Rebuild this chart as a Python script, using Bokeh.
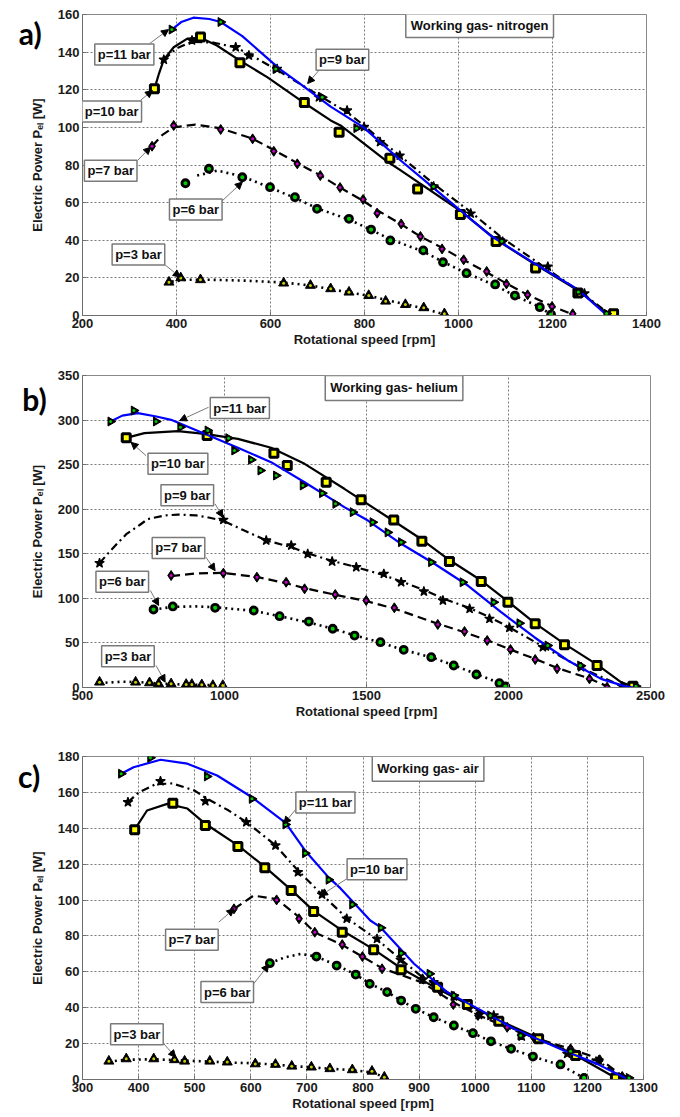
from math import pi

from bokeh.embed import file_html
from bokeh.layouts import column
from bokeh.models import Arrow, FixedTicker, Label, NormalHead, Range1d
from bokeh.plotting import figure
from bokeh.resources import INLINE

# ---------------------------------------------------------------- data
# a) working gas: nitrogen
a_rpm_ticks = [200, 400, 600, 800, 1000, 1200, 1400]
a_w_ticks = [0, 20, 40, 60, 80, 100, 120, 140, 160]

a_p11_rpm = [390, 494, 611, 710, 783, 947, 1092, 1255, 1315]
a_p11_w = [152, 156, 131, 116, 99.6, 68.6, 39.5, 12.5, 1]
a_p11_fit_rpm = [390, 410, 436, 470, 494, 540, 572, 620, 664, 728, 798, 877, 941, 1068, 1153, 1253, 1309, 1318]
a_p11_fit_w = [152, 156, 158.3, 157.6, 156, 148.5, 141.5, 131, 123, 111, 100, 82.4, 69, 42.5, 29, 14, 1.6, 0]

a_p10_rpm = [353, 451, 535, 672, 746, 854, 913, 1004, 1080, 1164, 1254, 1330]
a_p10_w = [120.5, 148, 134.3, 113.2, 97.4, 83.6, 67.3, 53.7, 39.3, 25.3, 11.9, 0.9]
a_p10_fit_rpm = [353, 362, 373, 394, 423, 451, 486, 535, 593, 664, 728, 749, 845, 877, 1003, 1082, 1167, 1260, 1316, 1322]
a_p10_fit_w = [120.5, 128, 136, 142.6, 147.2, 147.6, 143.5, 135.5, 126.7, 114.3, 103.7, 101, 82.4, 77.1, 55.8, 39.9, 26.6, 12.4, 0.9, 0]

a_p9_rpm = [373, 433, 526, 554, 614, 703, 763, 799, 833, 875, 947, 1026, 1094, 1190, 1268, 1322]
a_p9_w = [136, 146.2, 142.6, 138.2, 131.1, 116, 109, 100.2, 92.2, 85, 68.6, 54.2, 39.3, 26, 11.7, 0.9]
a_p9_fit_rpm = [373, 400, 433, 480, 526, 554, 614, 703, 763, 799, 833, 875, 947, 1026, 1094, 1190, 1268, 1322]
a_p9_fit_w = [136, 142, 145.5, 145, 142.5, 139, 130.5, 117, 108, 101, 93.5, 85, 70, 55, 41, 24.5, 11, 0.5]

a_p7_rpm = [348, 394, 494, 562, 607, 657, 706, 748, 797, 827, 878, 919, 965, 1011, 1060, 1102, 1147, 1199, 1243]
a_p7_w = [90, 101, 98.9, 93.9, 87.3, 80.6, 74.4, 68, 61.7, 54.4, 48.7, 42, 35.4, 29.6, 23.4, 16.8, 11, 4.8, 0.9]
a_p7_fit_rpm = [348, 370, 394, 440, 494, 562, 607, 657, 706, 748, 797, 827, 878, 919, 965, 1011, 1060, 1102, 1147, 1199, 1243]
a_p7_fit_w = [90, 96, 100, 101.5, 99.5, 94, 88, 81, 74.5, 68, 61, 56, 48.5, 42, 36, 29.5, 23, 17, 11, 5, 0.5]

a_p6_rpm = [419, 469, 540, 599, 652, 699, 767, 814, 855, 925, 967, 1017, 1078, 1120, 1173, 1197]
a_p6_w = [70.3, 78, 73.5, 68.2, 62.9, 56.7, 51.4, 45.7, 39.9, 34.6, 28.3, 22.5, 16.5, 10.6, 4.4, 0.5]
a_p6_fit_rpm = [444, 487, 540, 599, 652, 699, 767, 814, 855, 925, 967, 1017, 1078, 1120, 1173, 1197]
a_p6_fit_w = [74.4, 77, 74, 68, 62.5, 57, 51, 45.5, 40.5, 34, 28.5, 22.5, 16, 10.5, 4.5, 0.5]

a_p3_rpm = [384, 409, 451, 628, 685, 728, 767, 809, 845, 887, 926, 970]
a_p3_w = [17.7, 20, 19, 17.2, 16, 14.2, 12.4, 10.6, 7.6, 5.8, 4.1, 0.9]
a_p3_fit_rpm = [390, 420, 470, 550, 628, 685, 728, 767, 809, 845, 887, 926, 970]
a_p3_fit_w = [18, 19, 19, 18.5, 17.5, 16, 14, 12.3, 10.5, 8.3, 6, 3.8, 0.5]

# b) working gas: helium
b_rpm_ticks = [500, 1000, 1500, 2000, 2500]
b_w_ticks = [0, 50, 100, 150, 200, 250, 300, 350]

b_p11_rpm = [599, 681, 759, 845, 941, 1014, 1035, 1094, 1127, 1182, 1276, 1344, 1391, 1452, 1522,
             1575, 1622, 1728, 1839, 1948, 2039, 2138, 2253, 2449]
b_p11_w = [298.4, 310.7, 298.4, 292, 288.3, 279.7, 265.9, 255.4, 243.4, 237.8, 226.6, 218, 206, 196.7, 185.4,
           174, 163, 140.6, 118, 95.7, 72.1, 47.1, 24.7, 1.5]
b_p11_fit_rpm = [599, 640, 695, 760, 812, 930, 1047, 1164, 1282, 1422, 1505, 1622, 1739, 1857, 1974, 2091, 2209, 2326, 2408, 2440]
b_p11_fit_w = [298.4, 305, 307.7, 304, 300.3, 284.6, 268.9, 252.8, 230.3, 202.3, 187.3, 161.2, 138.8, 114.4, 84.5, 56.4, 30.3, 9.7, 1.5, 0]

b_p10_rpm = [654, 939, 1174, 1221, 1358, 1481, 1596, 1695, 1792, 1904, 1998, 2094, 2197, 2312, 2438]
b_p10_w = [280.1, 282.7, 262.8, 249, 230.3, 210.6, 188, 164.1, 141.3, 118.9, 95.7, 71.4, 47.9, 24.7, 1.5]
b_p10_fit_rpm = [654, 718, 836, 930, 1047, 1164, 1282, 1422, 1593, 1695, 1792, 1904, 1998, 2094, 2197, 2312, 2396, 2444]
b_p10_fit_w = [280, 285.3, 287.6, 284.6, 278.9, 268.9, 250.9, 222.9, 187.3, 166, 143, 120, 96.5, 72, 49, 25.7, 6, 0.3]

b_p9_rpm = [560, 996, 1147, 1235, 1293, 1379, 1464, 1561, 1622, 1702, 1769, 1863, 1933, 2003, 2121, 2256, 2399]
b_p9_w = [139.5, 188.1, 164.9, 159.3, 149.9, 141.3, 135, 127.5, 118.1, 107.7, 97.6, 88.3, 77.1, 67, 45.2, 22.8, 1.5]
b_p9_fit_rpm = [560, 600, 654, 700, 730, 790, 836, 900, 940, 996, 1070, 1147, 1235, 1293, 1379, 1464, 1561,
                1622, 1702, 1769, 1863, 1933, 2003, 2121, 2256, 2399]
b_p9_fit_w = [139.5, 154, 172, 182, 189, 193, 194, 193, 191, 187, 176, 165, 157.5, 150.5, 142, 135, 126,
              119, 109.5, 100, 89, 79, 67.5, 46, 22, 1.5]

b_p7_rpm = [812, 996, 1114, 1217, 1282, 1390, 1499, 1598, 1751, 1845, 1925, 2007, 2094, 2171, 2285, 2347]
b_p7_w = [125.6, 128.3, 123.8, 118.1, 110.7, 104.3, 97.6, 89.4, 70.7, 62.8, 52.7, 42.6, 31.4, 21, 9.7, 0.4]
b_p7_fit_rpm = [812, 900, 996, 1114, 1217, 1282, 1390, 1499, 1598, 1751, 1845, 1925, 2007, 2094, 2171, 2285, 2347]
b_p7_fit_w = [125, 128, 128.5, 124, 117, 111.5, 104, 97, 88.5, 71.5, 62, 53, 42.5, 32, 22, 10, 1.5]

b_p6_rpm = [750, 818, 967, 1103, 1194, 1297, 1381, 1458, 1549, 1631, 1728, 1807, 1887, 1968, 1989]
b_p6_w = [87.5, 90.9, 89.4, 86.4, 80, 74, 65.9, 58.3, 50.8, 42.3, 34, 24.7, 14.6, 4.8, 1.1]
b_p6_fit_rpm = [750, 820, 900, 967, 1103, 1194, 1297, 1381, 1458, 1549, 1631, 1728, 1807, 1887, 1968, 1995]
b_p6_fit_w = [87.5, 90.5, 91, 90, 86, 80, 73, 66, 58.5, 50.5, 42, 34, 25, 15, 5, 0.5]

b_p3_rpm = [560, 687, 736, 768, 812, 865, 885, 920, 959, 994]
b_p3_w = [6, 6, 5.2, 4.1, 4.1, 3.4, 3.4, 3, 2.2, 2.2]
b_p3_fit_rpm = [560, 640, 700, 768, 840, 920, 1000]
b_p3_fit_w = [5, 6.5, 6, 4.5, 3.5, 3, 2]

# c) working gas: air
c_rpm_ticks = [300, 400, 500, 600, 700, 800, 900, 1000, 1100, 1200, 1300]
c_w_ticks = [0, 20, 40, 60, 80, 100, 120, 140, 160, 180]

c_p11_rpm = [369, 421, 522, 602, 662, 697, 739, 781, 832, 868, 919, 962, 1027, 1081, 1170, 1274]
c_p11_w = [170.4, 179.3, 168.9, 156.4, 142.1, 126.1, 111.3, 97.5, 84.5, 70.4, 58.9, 46.8, 35.7, 24.5, 15.8, 0.9]
c_p11_fit_rpm = [369, 391, 439, 487, 540, 602, 662, 697, 739, 760, 813, 831, 891, 950, 1009, 1069, 1158, 1217, 1265, 1275]
c_p11_fit_w = [170.4, 174, 178.2, 176, 169.4, 157.3, 143, 127.5, 112.5, 106.5, 88.6, 84.9, 64.5, 48.7, 38.8, 28.3, 16.2, 8.7, 1.3, 0]

c_p10_rpm = [393, 461, 519, 577, 625, 672, 712, 763, 819, 868, 933, 986, 1042, 1113, 1179, 1250]
c_p10_w = [139.2, 154, 141.5, 129.8, 118, 105.3, 93.6, 82.1, 72.3, 61.1, 51.4, 41.8, 32.5, 22.7, 13.4, 0.9]
c_p10_fit_rpm = [393, 415, 451, 487, 519, 577, 625, 672, 712, 763, 819, 868, 933, 986, 1042, 1113, 1179, 1250]
c_p10_fit_w = [139.2, 149.9, 153.6, 151, 142.5, 130.5, 118.5, 105.7, 94, 83, 72.5, 62, 50.5, 42, 33, 23, 13.5, 1]

c_p9_rpm = [381, 439, 519, 592, 644, 684, 727, 771, 825, 867, 906, 926, 962, 1007, 1033, 1083, 1164, 1220, 1262]
c_p9_w = [154.5, 166.2, 155.1, 143.4, 130.4, 115.5, 103.1, 89.6, 78.4, 66.7, 55.6, 54.2, 46.3, 36, 35.7, 24, 14.3, 10.6, 1.3]
c_p9_fit_rpm = [381, 400, 430, 460, 500, 519, 560, 592, 644, 684, 727, 771, 825, 867, 906, 962, 1007, 1033, 1083, 1164, 1220, 1262]
c_p9_fit_w = [154.5, 160, 164.5, 165, 161, 157, 150, 143.5, 130.5, 116.5, 103, 90, 78, 67, 57, 46.5, 38, 34, 26, 16, 10, 1.3]

c_p7_rpm = [570, 646, 686, 714, 763, 799, 834, 906, 938, 961, 1005, 1057, 1104, 1170, 1222, 1262]
c_p7_w = [95.1, 100.1, 89.6, 82.1, 75.2, 68.5, 61.7, 56.1, 49.2, 41.8, 35.7, 29.1, 23.6, 17.1, 11, 1.7]
c_p7_fit_rpm = [570, 605, 646, 686, 714, 763, 799, 834, 906, 961, 1005, 1057, 1104, 1170, 1222, 1262, 1270]
c_p7_fit_w = [95, 102.5, 100.5, 90.5, 82, 75, 68.5, 62, 54, 43, 36, 29, 23.5, 17, 11.5, 2, 0.5]

c_p6_rpm = [634, 717, 753, 787, 812, 843, 868, 894, 926, 962, 996, 1028, 1064, 1103, 1152, 1194]
c_p6_w = [64.8, 68.5, 63.5, 58.5, 53.3, 48.7, 44, 39.4, 34.7, 30.1, 25.8, 21.3, 17.1, 12.8, 8.4, 0.9]
c_p6_fit_rpm = [634, 660, 689, 717, 754, 787, 812, 843, 868, 894, 926, 962, 996, 1028, 1064, 1103, 1152, 1194]
c_p6_fit_w = [64.8, 68, 70, 68.5, 63.5, 58.5, 53.5, 48.7, 44, 39.4, 34.7, 30, 25.8, 21.3, 17, 12.8, 8, 0.9]

c_p3_rpm = [347, 378, 427, 464, 482, 527, 558, 608, 644, 673, 708, 741, 781, 816, 838]
c_p3_w = [10.2, 11.5, 11.5, 11, 10.2, 10.2, 9.7, 8.7, 8.4, 7.4, 6.9, 6, 5.4, 4.6, 1.3]
c_p3_fit_rpm = [347, 378, 427, 464, 527, 558, 608, 644, 673, 708, 741, 781, 816, 838]
c_p3_fit_w = [10, 11, 11.3, 10.8, 10, 9.5, 9, 8.3, 7.5, 6.8, 6, 5.2, 4, 1.3]

# ---------------------------------------------------------------- styles
FONT = "Liberation Sans"
STYLE = {
    "p11": dict(color="#0000ff", dash="solid", lw=2.2, marker="triangle", angle=-pi / 2,
                size=9, fill="black", lwm=1, dot="#00cc00"),
    "p10": dict(color="black", dash="solid", lw=2.2, marker="square", angle=0,
                size=8, fill="#ffff00", lwm=3, dot=None),
    "p9": dict(color="black", dash="8 4 2 4", lw=2.2, marker="star", angle=0,
               size=10, fill="black", lwm=1.2, dot=None),
    "p7": dict(color="black", dash="9 5", lw=2.2, marker="diamond", angle=0,
               size=10, fill="black", lwm=1, dot="#cc00cc"),
    "p6": dict(color="black", dash="2 4", lw=2.6, marker="circle", angle=0,
               size=7, fill="#00cc00", lwm=2.8, dot=None),
    "p3": dict(color="black", dash="2 4", lw=2.6, marker="triangle", angle=0,
               size=10, fill="black", lwm=1, dot="#cccc00"),
}


def make_panel(xr, yr, xticks, yticks, fw, fh, left, right, top, bottom):
    p = figure(output_backend="svg", toolbar_location=None,
               frame_width=fw, frame_height=fh,
               min_border_left=left, min_border_right=right,
               min_border_top=top, min_border_bottom=bottom,
               x_range=Range1d(*xr), y_range=Range1d(*yr))
    p.background_fill_color = "white"
    p.border_fill_color = "white"
    p.outline_line_color = "#8a8a8a"
    p.outline_line_width = 1
    p.xaxis.ticker = FixedTicker(ticks=xticks)
    p.yaxis.ticker = FixedTicker(ticks=yticks)
    p.xaxis.axis_label = "Rotational speed [rpm]"
    p.yaxis.axis_label = "Electric Power P\u2091\u2097 [W]"
    for ax in (p.xaxis[0], p.yaxis[0]):
        ax.axis_line_color = "#6e6e6e"
        ax.major_tick_line_color = "#6e6e6e"
        ax.major_tick_in = 4
        ax.major_tick_out = 0
        ax.minor_tick_line_color = None
        ax.major_label_text_font = FONT
        ax.major_label_text_font_style = "bold"
        ax.major_label_text_font_size = "13px"
        ax.major_label_text_color = "#1a1a1a"
        ax.axis_label_text_font = FONT
        ax.axis_label_text_font_style = "bold"
        ax.axis_label_text_font_size = "13px"
        ax.axis_label_text_color = "#1a1a1a"
        ax.major_label_standoff = 3
    p.xaxis.axis_label_standoff = 1
    p.yaxis.axis_label_standoff = 10
    p.grid.grid_line_color = "#7a7a7a"
    p.grid.grid_line_dash = "2 2"
    p.grid.grid_line_width = 1
    return p


def draw_series(p, kind, fit_x, fit_y, pts_x, pts_y):
    st = STYLE[kind]
    p.line(fit_x, fit_y, line_color=st["color"], line_width=st["lw"], line_dash=st["dash"])
    p.scatter(pts_x, pts_y, marker=st["marker"], size=st["size"], angle=st["angle"],
              fill_color=st["fill"], line_color="black", line_width=st["lwm"])
    if st["dot"]:
        p.scatter(pts_x, pts_y, marker="circle", size=3, fill_color=st["dot"], line_color=None)


def tag(p, text, bx, by, x0, y0, x1, y1):
    p.add_layout(Arrow(x_start=x0, y_start=y0, x_end=x1, y_end=y1,
                       line_color="#7a7a7a", line_width=1,
                       end=NormalHead(size=7, fill_color="black", line_color="black")))
    p.add_layout(Label(x=bx, y=by, text=text, text_align="center", text_baseline="middle",
                       text_font=FONT, text_font_style="bold", text_font_size="13px",
                       text_color="#111111", background_fill_color="white",
                       border_line_color="#7a7a7a", border_line_width=1.5, padding=3))


def gas_box(p, text, bx, by):
    p.add_layout(Label(x=bx, y=by, text=text, text_align="center", text_baseline="middle",
                       text_font=FONT, text_font_style="bold", text_font_size="13px",
                       text_color="#111111", background_fill_color="white",
                       border_line_color="#7a7a7a", border_line_width=1.5, padding=5))


def letter(p, text, x, y):
    # the panel letter lies left of the frame, so it goes into the left side panel
    p.add_layout(Label(x=x, y=y, text=text, text_align="center", text_baseline="middle",
                       text_font="Lato", text_font_style="bold", text_font_size="30px",
                       text_color="black"), "left")


# ---------------------------------------------------------------- a) nitrogen
pa = make_panel((200, 1400), (0, 160), a_rpm_ticks, a_w_ticks, 564, 301, 82, 34, 14, 35)
draw_series(pa, "p3", a_p3_fit_rpm, a_p3_fit_w, a_p3_rpm, a_p3_w)
draw_series(pa, "p6", a_p6_fit_rpm, a_p6_fit_w, a_p6_rpm, a_p6_w)
draw_series(pa, "p7", a_p7_fit_rpm, a_p7_fit_w, a_p7_rpm, a_p7_w)
draw_series(pa, "p9", a_p9_fit_rpm, a_p9_fit_w, a_p9_rpm, a_p9_w)
draw_series(pa, "p10", a_p10_fit_rpm, a_p10_fit_w, a_p10_rpm, a_p10_w)
draw_series(pa, "p11", a_p11_fit_rpm, a_p11_fit_w, a_p11_rpm, a_p11_w)
tag(pa, "p=11 bar", 289, 138.8, 343, 144.6, 383, 152)
tag(pa, "p=10 bar", 262, 108.5, 323, 114.3, 349, 119.6)
tag(pa, "p=9 bar", 753, 136, 702, 130, 679, 123.3)
tag(pa, "p=7 bar", 260, 77, 317, 82.4, 345, 89.5)
tag(pa, "p=6 bar", 441, 56.3, 494, 60.2, 540, 70.9)
tag(pa, "p=3 bar", 319, 32.4, 372, 27.6, 408, 20.4)
gas_box(pa, "Working gas- nitrogen", 1045, 154.4)
letter(pa, "a)", 89, 150)

# ---------------------------------------------------------------- b) helium
pb = make_panel((500, 2500), (0, 350), b_rpm_ticks, b_w_ticks, 568, 312, 78, 34, 25, 35)
draw_series(pb, "p3", b_p3_fit_rpm, b_p3_fit_w, b_p3_rpm, b_p3_w)
draw_series(pb, "p6", b_p6_fit_rpm, b_p6_fit_w, b_p6_rpm, b_p6_w)
draw_series(pb, "p7", b_p7_fit_rpm, b_p7_fit_w, b_p7_rpm, b_p7_w)
draw_series(pb, "p9", b_p9_fit_rpm, b_p9_fit_w, b_p9_rpm, b_p9_w)
draw_series(pb, "p10", b_p10_fit_rpm, b_p10_fit_w, b_p10_rpm, b_p10_w)
draw_series(pb, "p11", b_p11_fit_rpm, b_p11_fit_w, b_p11_rpm, b_p11_w)
tag(pb, "p=11 bar", 1054, 313.5, 944, 314.4, 842, 299.4)
tag(pb, "p=10 bar", 836, 251, 724, 260, 671, 275)
tag(pb, "p=9 bar", 869, 215.7, 967, 206, 994, 191)
tag(pb, "p=7 bar", 838, 156.5, 935, 146, 967, 131)
tag(pb, "p=6 bar", 640, 118.6, 739, 108.8, 768, 92)
tag(pb, "p=3 bar", 660, 35, 759, 24.7, 791, 6)
gas_box(pb, "Working gas- helium", 1597, 336)
letter(pb, "b)", 331, 324)

# ---------------------------------------------------------------- c) air
pc = make_panel((300, 1300), (0, 180), c_rpm_ticks, c_w_ticks, 561, 323, 82, 37, 34, 38)
draw_series(pc, "p3", c_p3_fit_rpm, c_p3_fit_w, c_p3_rpm, c_p3_w)
draw_series(pc, "p6", c_p6_fit_rpm, c_p6_fit_w, c_p6_rpm, c_p6_w)
draw_series(pc, "p7", c_p7_fit_rpm, c_p7_fit_w, c_p7_rpm, c_p7_w)
draw_series(pc, "p9", c_p9_fit_rpm, c_p9_fit_w, c_p9_rpm, c_p9_w)
draw_series(pc, "p10", c_p10_fit_rpm, c_p10_fit_w, c_p10_rpm, c_p10_w)
draw_series(pc, "p11", c_p11_fit_rpm, c_p11_fit_w, c_p11_rpm, c_p11_w)
tag(pc, "p=11 bar", 733, 154.4, 680, 150.5, 659, 142.5)
tag(pc, "p=10 bar", 825, 117.1, 771, 111.8, 724, 102.5)
tag(pc, "p=7 bar", 495, 77.9, 543, 87.7, 570, 95.1)
tag(pc, "p=6 bar", 558, 48.7, 605, 53.3, 632, 64.1)
tag(pc, "p=3 bar", 397, 25.2, 445, 19.9, 466, 12.4)
gas_box(pc, "Working gas- air", 916, 173.2)
letter(pc, "c)", 205, 169.4)

layout = column(pa, pb, pc, spacing=0)
open("out.html", "w").write(file_html(layout, INLINE))
